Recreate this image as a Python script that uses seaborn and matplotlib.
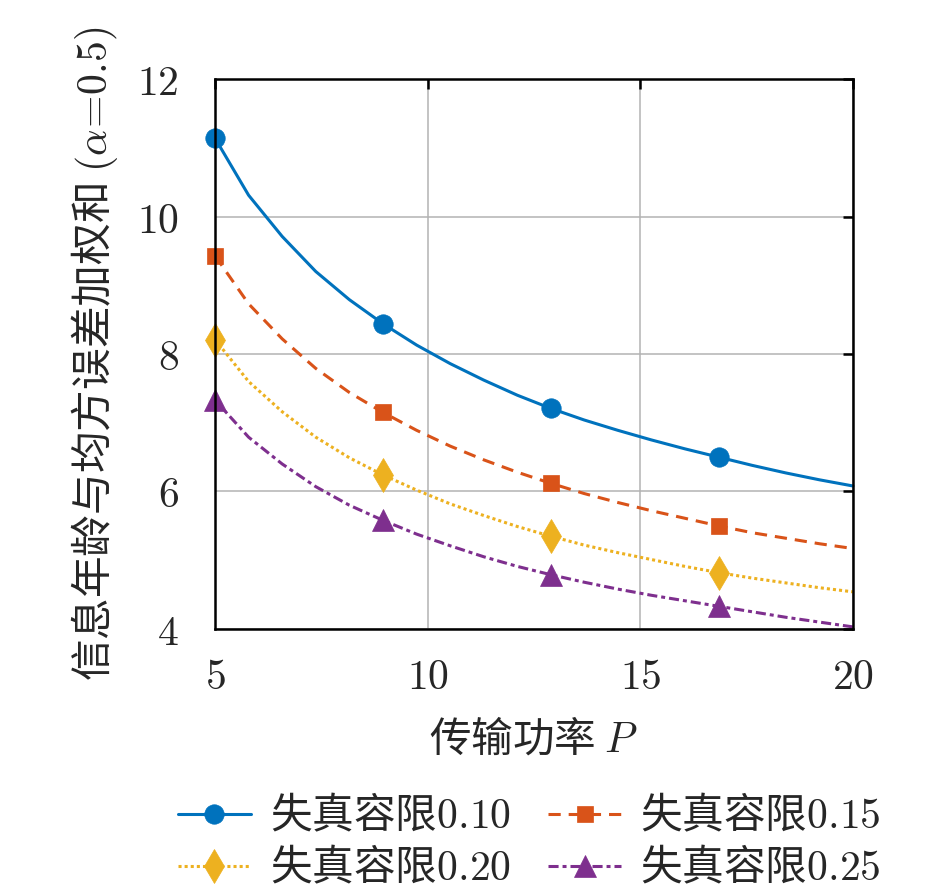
import numpy as np
import matplotlib
matplotlib.use("Agg")
import matplotlib.pyplot as plt
import seaborn as sns

# transmit power grid (20 samples, markers every 5th)
power = [5.00, 5.79, 6.58, 7.37, 8.16, 8.95, 9.74, 10.53, 11.32, 12.11,
         12.89, 13.68, 14.47, 15.26, 16.05, 16.84, 17.63, 18.42, 19.21, 20.00]

tol_010 = [11.14, 10.31, 9.71, 9.20, 8.79, 8.44, 8.13, 7.86, 7.62, 7.40,
           7.21, 7.04, 6.89, 6.75, 6.62, 6.50, 6.38, 6.27, 6.17, 6.08]
tol_015 = [9.43, 8.73, 8.22, 7.79, 7.44, 7.15, 6.89, 6.66, 6.46, 6.28,
           6.12, 5.97, 5.84, 5.72, 5.61, 5.50, 5.40, 5.32, 5.24, 5.17]
tol_020 = [8.21, 7.60, 7.16, 6.79, 6.49, 6.24, 6.02, 5.82, 5.65, 5.49,
           5.35, 5.22, 5.11, 5.01, 4.91, 4.82, 4.74, 4.67, 4.60, 4.54]
tol_025 = [7.33, 6.79, 6.40, 6.07, 5.80, 5.58, 5.38, 5.21, 5.05, 4.91,
           4.79, 4.68, 4.58, 4.49, 4.41, 4.33, 4.25, 4.17, 4.10, 4.03]

labels = ['失真容限$0.10$', '失真容限$0.15$', '失真容限$0.20$', '失真容限$0.25$']
xticks = [5, 10, 15, 20]
yticks = [4, 6, 8, 10, 12]

sns.set_theme(style='whitegrid')
plt.rcParams['font.family'] = ['Noto Sans CJK SC', 'DejaVu Sans']
plt.rcParams['mathtext.fontset'] = 'cm'
plt.rcParams['axes.unicode_minus'] = False

colors = ['#0072BD', '#D95319', '#EDB120', '#7E2F8E']
styles = ['-', (0, (4.0, 2.6)), (0, (1.0, 1.0)), (0, (3.3, 1.3, 1.3, 1.3))]
markers = ['o', 's', 'd', '^']
msizes = [14, 11.5, 17, 16]

fig = plt.figure(figsize=(9.45, 8.91), dpi=100)
ax = fig.add_axes([0.2275, 0.2941, 0.6751, 0.6172])

series = [tol_010, tol_015, tol_020, tol_025]
for vals, lab, c, ls, mk, ms in zip(series, labels, colors, styles, markers, msizes):
    sns.lineplot(x=power, y=vals, ax=ax, color=c, linestyle=ls, linewidth=2.2,
                 marker=mk, markersize=ms, markevery=5, markeredgecolor=c,
                 markeredgewidth=0.5, label=lab, clip_on=False, zorder=3)

ax.set_xlim(5, 20)
ax.set_ylim(4, 12)
ax.set_xticks(xticks)
ax.set_yticks(yticks)
ax.set_xticklabels([f'${t}$' for t in xticks])
ax.set_yticklabels([f'${t}$' for t in yticks])
ax.tick_params(axis='both', which='major', direction='in', length=7, width=1.8,
               labelsize=30, top=True, right=True, color='black', pad=20)
ax.tick_params(axis='y', pad=26)
ax.grid(True, color='#b3b3b3', linewidth=1.1)
for sp in ax.spines.values():
    sp.set_color('black')
    sp.set_linewidth(1.8)
    sp.set_zorder(4)

ax.set_xlabel('传输功率 $P$', fontsize=30, labelpad=14)
ax.set_ylabel(r'信息年龄与均方误差加权和 $(\alpha\!=\!0.5)$', fontsize=30, labelpad=12)

handles, labs = ax.get_legend_handles_labels()
ax.get_legend().remove()
order = [0, 2, 1, 3]
fig.legend([handles[i] for i in order], [labs[i] for i in order],
           loc='upper center', bbox_to_anchor=(0.56, 0.127), ncol=2,
           frameon=False, fontsize=30, handlelength=1.75, handletextpad=0.45,
           columnspacing=0.9, labelspacing=0.2, borderaxespad=0.0)

fig.savefig('out.png', dpi=100)
